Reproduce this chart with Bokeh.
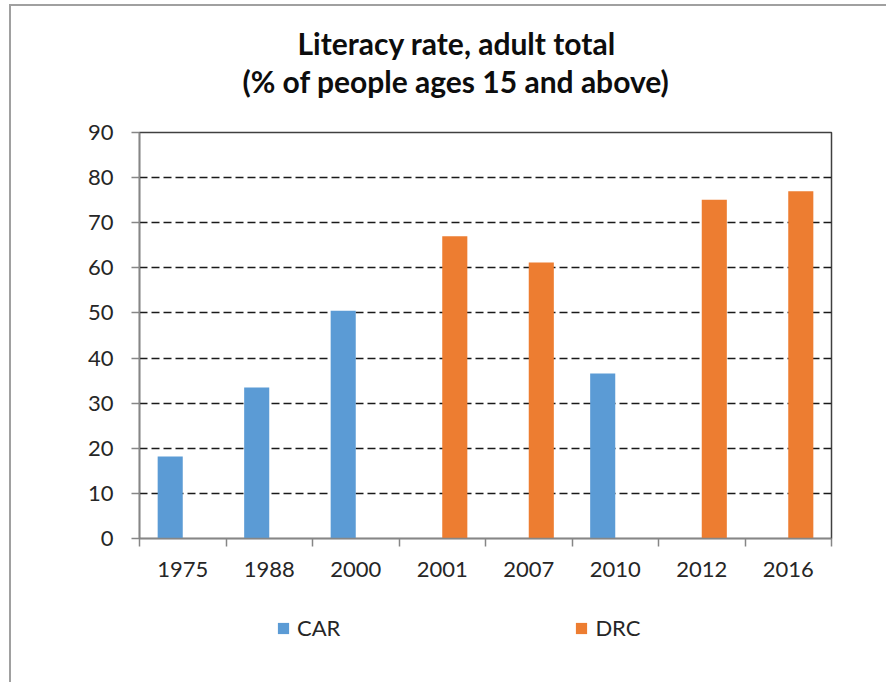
import numpy as np
from bokeh.plotting import figure
from bokeh.layouts import column
from bokeh.models import (ColumnDataSource, FixedTicker, Legend, LegendItem,
                          Range1d, Title, LinearAxis)
from bokeh.transform import dodge
from bokeh.embed import file_html
from bokeh.resources import INLINE

# ---- data ----
years = ["1975", "1988", "2000", "2001", "2007", "2010", "2012", "2016"]
car = [18.2, 33.5, 50.5, None, None, 36.6, None, None]
drc = [None, None, None, 67.0, 61.2, None, 75.1, 77.0]
series = ["CAR", "DRC"]
colors = ["#5B9BD5", "#ED7D31"]
y_ticks = [0, 10, 20, 30, 40, 50, 60, 70, 80, 90]
title_lines = ["Literacy rate, adult total", "(% of people ages 15 and above)"]

n = len(years)
centers = [i + 0.5 for i in range(n)]
bounds = [float(i) for i in range(n + 1)]
src = ColumnDataSource(dict(
    x=centers,
    CAR=[np.nan if v is None else v for v in car],
    DRC=[np.nan if v is None else v for v in drc],
))

FONT = "Lato"
TXT = "#262626"
AXC = "#868686"
BORDER = "2px solid #a0a0a0"

# canvas offset inside the page (outer grey border at left / top)
OX, OY = 11, 6
H1 = 590 - OY
p = figure(width=888 - OX, height=H1, x_range=Range1d(0, n), y_range=Range1d(0, 90),
           output_backend="svg", toolbar_location=None,
           min_border_left=139 - OX, min_border_right=57, min_border_top=132 - OY,
           min_border_bottom=590 - 538)
p.styles = {"margin-left": "9px", "margin-top": "4px",
            "border-left": BORDER, "border-top": BORDER}
p.title = None
p.background_fill_color = "white"
p.border_fill_color = "white"
p.outline_line_color = "#404040"
p.outline_line_width = 1.5

bw = 0.29
offs = [-bw / 2, bw / 2]
for s, c, off in zip(series, colors, offs):
    p.vbar(x=dodge("x", off), top=s, width=bw, source=src,
           fill_color=c, line_color=None)

# grid
p.xgrid.visible = False
p.ygrid.ticker = FixedTicker(ticks=y_ticks)
p.ygrid.grid_line_color = "#1a1a1a"
p.ygrid.grid_line_dash = "8 4"
p.ygrid.grid_line_width = 1.3

# y axis
ya = p.yaxis[0]
ya.ticker = FixedTicker(ticks=y_ticks)
ya.axis_line_color = AXC
ya.axis_line_width = 1.5
ya.major_tick_line_color = AXC
ya.major_tick_line_width = 1.5
ya.major_tick_out = 8
ya.major_tick_in = 0
ya.minor_tick_line_color = None
ya.major_label_text_font = FONT
ya.major_label_text_font_size = "22px"
ya.major_label_text_color = TXT
ya.major_label_standoff = 18

# x axis
xa = p.xaxis[0]
xa.ticker = FixedTicker(ticks=centers, minor_ticks=bounds)
xa.major_label_overrides = {c: y for c, y in zip(centers, years)}
xa.axis_line_color = AXC
xa.axis_line_width = 1.5
xa.major_tick_line_color = None
xa.minor_tick_line_color = AXC
xa.minor_tick_line_width = 1.5
xa.minor_tick_out = 8
xa.minor_tick_in = 0
xa.major_label_text_font = FONT
xa.major_label_text_font_size = "22px"
xa.major_label_text_color = TXT
xa.major_label_standoff = 15

# blank spacer between frame and title
spacer = LinearAxis(ticker=FixedTicker(ticks=[centers[0]]), axis_line_color=None,
                    major_tick_line_color=None, minor_tick_line_color=None,
                    major_tick_out=34, major_tick_in=0, major_label_standoff=0,
                    major_label_overrides={centers[0]: ""},
                    major_label_text_font_size="0px")
p.add_layout(spacer, "above")

# title (two lines, the lower line added first)
offsets = [158, 103]
for txt, off in reversed(list(zip(title_lines, offsets))):
    p.add_layout(Title(text=txt, align="left", offset=off, standoff=0,
                       text_font=FONT, text_font_style="bold",
                       text_font_size="30px", text_color="#0d0d0d"), "above")

# ---- legend strip (separate figure below the chart) ----
H2 = 684 - 590
q = figure(width=888 - OX, height=H2, x_range=p.x_range, y_range=Range1d(1000, 1001),
           output_backend="svg", toolbar_location=None, min_border=0)
q.styles = {"margin-left": "9px", "border-left": BORDER}
q.title = None
q.axis.visible = False
q.grid.visible = False
q.outline_line_color = None
q.background_fill_color = "white"
q.border_fill_color = "white"
lrs = []
for s, c, off in zip(series, colors, offs):
    lrs.append(q.vbar(x=dodge("x", off), top=s, width=bw, source=src,
                      fill_color=c, line_color=None))
legend = Legend(items=[LegendItem(label=s, renderers=[r]) for s, r in zip(series, lrs)],
                orientation="horizontal", location=(137, 41),
                padding=0, margin=0, spacing=234, label_standoff=7,
                glyph_width=14, glyph_height=14, label_height=20,
                label_text_font=FONT, label_text_font_size="22px",
                label_text_color=TXT, border_line_color=None,
                background_fill_alpha=0)
q.add_layout(legend, "center")

layout = column(p, q, spacing=0)
open("out.html", "w").write(file_html(layout, INLINE))
